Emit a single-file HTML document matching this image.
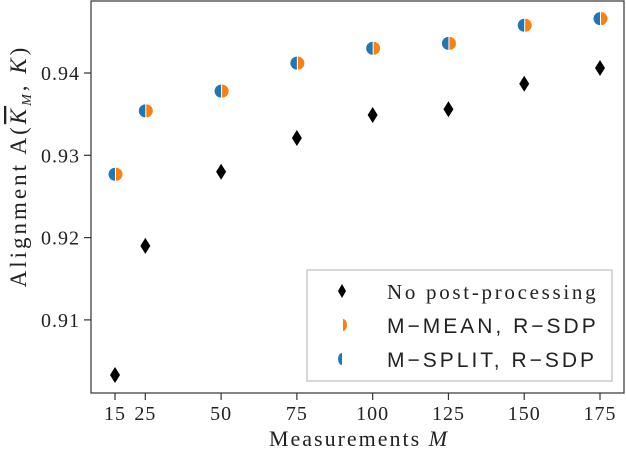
<!DOCTYPE html>
<html><head><meta charset="utf-8"><style>
body{margin:0;background:#fff;}
svg text{font-family:"Liberation Serif","DejaVu Serif",serif;fill:#222;}
</style></head><body>
<svg id="chart" width="626" height="452" viewBox="0 0 626 452" xmlns="http://www.w3.org/2000/svg">
<g id="marks"></g>
<rect x="91" y="1" width="533" height="392" fill="none" stroke="#333" stroke-width="1.2"/>
<g id="axes"></g>
<text x="359" y="446" font-size="22" letter-spacing="2" text-anchor="middle">Measurements <tspan font-style="italic">M</tspan></text>
<text transform="translate(26,166) rotate(-90)" font-size="23" letter-spacing="3" text-anchor="middle">Alignment A(<tspan font-style="italic" text-decoration="overline">K</tspan><tspan font-style="italic" font-size="14" dy="5">M</tspan><tspan dy="-5">, </tspan><tspan font-style="italic">K</tspan>)</text>
<g>
<rect x="307" y="270" width="305" height="111" fill="#fff" fill-opacity="0.85" stroke="#ccc" stroke-width="1.5"/>
<path d="M342,284 L346,291 L342,298 L338,291 Z" fill="#000"/>
<text x="387" y="299" font-size="21" letter-spacing="2.7">No post-processing</text>
<path d="M343,319 A4,6 0 0 1 343,331 Z" fill="#ff7f0e"/>
<text x="387" y="333" font-size="21" letter-spacing="3" style="font-family:'Liberation Sans',sans-serif">M−MEAN, R−SDP</text>
<path d="M342,353 A4,6 0 0 0 342,365 Z" fill="#1f77b4"/>
<text x="387" y="367" font-size="21" letter-spacing="3" style="font-family:'Liberation Sans',sans-serif">M−SPLIT, R−SDP</text>
</g>
</svg>
<script>
const categories=[15,25,50,75,100,125,150,175];
const noPost=[0.9033,0.9190,0.9280,0.9321,0.9349,0.9356,0.9387,0.9406];
const mMean=[0.9277,0.9354,0.9378,0.9412,0.9430,0.9436,0.9458,0.9466];
const mSplit=[0.9277,0.9354,0.9378,0.9412,0.9430,0.9436,0.9458,0.9466];
const xTicks=[15,25,50,75,100,125,150,175];
const yTicks=[0.91,0.92,0.93,0.94];
const xs=v=>115+(v-15)*(485/160);
const ys=v=>73+(0.94-v)*8230;
const NS="http://www.w3.org/2000/svg";
const marks=document.getElementById('marks'),axes=document.getElementById('axes');
function mk(t,a,p){const e=document.createElementNS(NS,t);for(const k in a)e.setAttribute(k,a[k]);p.appendChild(e);return e;}
categories.forEach((c,i)=>{
 const x=xs(c);
 let y=ys(noPost[i]);
 const d=mk('path',{d:`M${x},${y-8} L${x+5},${y} L${x},${y+8} L${x-5},${y} Z`,fill:'#000'},marks);
 
 
 y=ys(mSplit[i]);
 const b=mk('path',{d:`M${x},${y-6.5} A6.5,6.5 0 0 0 ${x},${y+6.5} Z`,fill:'#1f77b4'},marks);
 
 
 y=ys(mMean[i]);
 const o=mk('path',{d:`M${x+1},${y-6.5} A6.5,6.5 0 0 1 ${x+1},${y+6.5} Z`,fill:'#ff7f0e'},marks);
 
 
});
xTicks.forEach(t=>{
 const x=xs(t);
 const l=mk('line',{x1:x,x2:x,y1:393,y2:400,stroke:'#333','stroke-width':1.2},axes);
 
 
 const tx=mk('text',{x:x,y:420,'font-size':20,'letter-spacing':1,'text-anchor':'middle'},axes);tx.textContent=t;
 
 
});
yTicks.forEach(t=>{
 const y=ys(t);
 const l=mk('line',{x1:84,x2:91,y1:y,y2:y,stroke:'#333','stroke-width':1.2},axes);
 
 
 const tx=mk('text',{x:80,y:y+7,'font-size':20,'letter-spacing':1,'text-anchor':'end'},axes);tx.textContent=t.toFixed(2);
 
 
});
</script>
</body></html>
